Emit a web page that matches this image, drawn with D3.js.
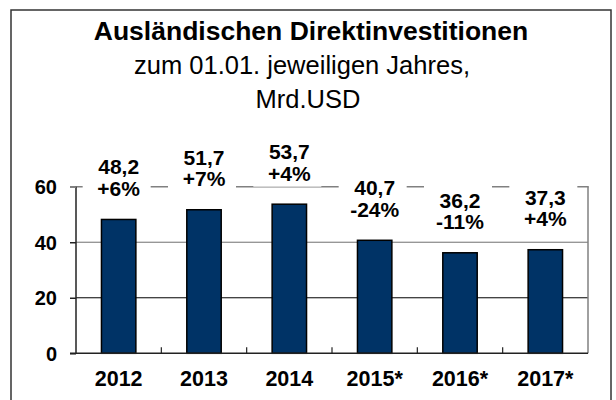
<!DOCTYPE html>
<html>
<head>
<meta charset="utf-8">
<script src="https://cdn.jsdelivr.net/npm/d3@7"></script>
<style>
html,body{margin:0;padding:0;background:#fff;}
text{font-family:"Liberation Sans", Arial, sans-serif;}
</style>
</head>
<body>
<svg id="chart" width="616" height="400"></svg>
<script>
const categories = ["2012","2013","2014","2015*","2016*","2017*"];
const values = [48.2, 51.7, 53.7, 40.7, 36.2, 37.3];
const valueLabels = ["48,2","51,7","53,7","40,7","36,2","37,3"];
const changeLabels = ["+6%","+7%","+4%","-24%","-11%","+4%"];
const yTicks = [0, 20, 40, 60];
const titleLines = ["Ausländischen Direktinvestitionen", "zum 01.01. jeweiligen Jahres,", "Mrd.USD"];

const svg = d3.select("#chart");
const plot = {left: 76, right: 588, top: 186.7, bottom: 353.3};

// outer frame
svg.append("rect").attr("x", 11).attr("y", 10).attr("width", 600).attr("height", 395)
  .attr("fill", "#fff").attr("stroke", "#333").attr("stroke-width", 1.5);

// titles
svg.append("text").attr("x", 311).attr("y", 40).attr("text-anchor", "middle")
  .attr("font-size", 26.5).attr("font-weight", "bold").text(titleLines[0]);
svg.append("text").attr("x", 302).attr("y", 74).attr("text-anchor", "middle")
  .attr("font-size", 25.5).text(titleLines[1]);
svg.append("text").attr("x", 308).attr("y", 108).attr("text-anchor", "middle")
  .attr("font-size", 25.5).text(titleLines[2]);

const xb = d3.scaleBand().domain(categories).range([plot.left, plot.right]);
const y = d3.scaleLinear().domain([0, 60]).range([plot.bottom, plot.top]);

// gridlines
svg.append("line").attr("x1", plot.left).attr("x2", plot.right)
  .attr("y1", y(40)).attr("y2", y(40)).attr("stroke", "#707070").attr("stroke-width", 1);
svg.append("line").attr("x1", plot.left).attr("x2", plot.right)
  .attr("y1", y(20)).attr("y2", y(20)).attr("stroke", "#000").attr("stroke-width", 1);
// top & right plot border (grey)
svg.append("line").attr("x1", plot.left - 6).attr("x2", plot.right + 0.75)
  .attr("y1", y(60)).attr("y2", y(60)).attr("stroke", "#808080").attr("stroke-width", 1.5);
svg.append("line").attr("x1", plot.right).attr("x2", plot.right)
  .attr("y1", y(60)).attr("y2", y(0)).attr("stroke", "#808080").attr("stroke-width", 1.5);

// bars
svg.append("g").selectAll("rect").data(values).join("rect")
  .attr("x", (d, i) => xb(categories[i]) + xb.bandwidth() / 2 - 17.2)
  .attr("width", 34.4)
  .attr("y", d => y(d))
  .attr("height", d => y(0) - y(d))
  .attr("fill", "#003366").attr("stroke", "#000").attr("stroke-width", 1.5);

// y axis
const yAxis = d3.axisLeft(y).tickValues(yTicks).tickSize(6).tickPadding(13).tickFormat(d3.format("d"));
const gy = svg.append("g").attr("transform", `translate(${plot.left},0)`).call(yAxis);
gy.select(".domain").attr("stroke", "#222").attr("stroke-width", 1.5).attr("d", `M0,${plot.top}V${plot.bottom}`);
gy.selectAll(".tick line").attr("stroke", "#222").attr("stroke-width", 1.5);
gy.selectAll(".tick line").filter(d => d === 60).attr("stroke", "#808080");
gy.selectAll(".tick text").attr("font-size", 20).attr("font-weight", "bold").attr("fill", "#000")
  .attr("font-family", "Liberation Sans, Arial, sans-serif").attr("dy", "0.36em");

// x axis
const xAxis = d3.axisBottom(xb).tickSize(0).tickPadding(25);
const gx = svg.append("g").attr("transform", `translate(0,${plot.bottom})`).call(xAxis);
gx.select(".domain").attr("stroke", "#222").attr("stroke-width", 1.5).attr("d", `M${plot.left - 6},0H${plot.right}`);
gx.selectAll(".tick text").attr("font-size", 21.5).attr("font-weight", "bold").attr("fill", "#000")
  .attr("font-family", "Liberation Sans, Arial, sans-serif").attr("dy", 0).attr("y", 33);
// category separator ticks (inward)
gx.append("g").selectAll("line").data(categories.slice(1)).join("line")
  .attr("x1", d => xb(d)).attr("x2", d => xb(d)).attr("y1", 0).attr("y2", -6)
  .attr("stroke", "#222").attr("stroke-width", 1.2);

// value labels with white backgrounds
const lab = svg.append("g").selectAll("g").data(values).join("g")
  .attr("transform", (d, i) => `translate(${xb(categories[i]) + xb.bandwidth() / 2},${y(d) - 23.5})`);
lab.append("rect").attr("x", -36).attr("y", -46).attr("width", 68).attr("height", 52).attr("fill", "#fff");
lab.append("text").attr("text-anchor", "middle").attr("y", -21.5)
  .attr("font-size", 21).attr("font-weight", "bold").text((d, i) => valueLabels[i]);
lab.append("text").attr("text-anchor", "middle").attr("y", 0)
  .attr("font-size", 21).attr("font-weight", "bold").text((d, i) => changeLabels[i]);
</script>
</body>
</html>
